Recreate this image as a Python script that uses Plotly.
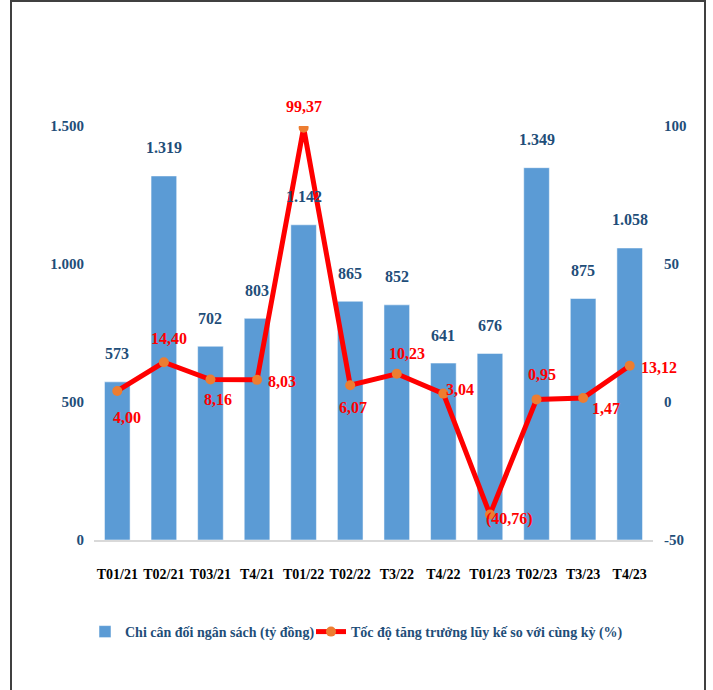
import plotly.graph_objects as go

categories = ["T01/21", "T02/21", "T03/21", "T4/21", "T01/22", "T02/22",
              "T3/22", "T4/22", "T01/23", "T02/23", "T3/23", "T4/23"]
spending = [573, 1319, 702, 803, 1142, 865, 852, 641, 676, 1349, 875, 1058]
growth = [4.00, 14.40, 8.16, 8.03, 99.37, 6.07, 10.23, 3.04, -40.76, 0.95, 1.47, 13.12]

left_tickvals = [0, 500, 1000, 1500]
left_ticktext = ["0", "500", "1.000", "1.500"]
right_tickvals = [-50, 0, 50, 100]
right_ticktext = ["-50", "0", "50", "100"]

bar_name = "Chi cân đối ngân sách (tỷ đồng)"
line_name = "Tốc độ tăng trưởng lũy kế so với cùng kỳ (%)"

# label offsets (pixels, dx right, dy down) for the growth labels
growth_label_offsets = [(10, 27), (5, -24), (8, 20), (25, 2), (0, -21), (3, 22),
                        (10, -20), (17, -4), (20, 4), (5, -25), (23, 11), (29, 2)]

FONT = "Liberation Serif"
BLUE_TXT = "#1F4E79"


def fmt_bar(v):
    return f"{v:,}".replace(",", ".")


def fmt_growth(v):
    s = f"{abs(v):.2f}".replace(".", ",")
    return f"({s})" if v < 0 else s


W, H = 713, 690
L, R, T, B = 94, 60, 126, 150
pw, ph = W - L - R, H - T - B


def px2x(px):
    return (px - L) / pw


def py2y(py):
    return (H - B - py) / ph


fig = go.Figure()
fig.add_trace(go.Bar(
    x=categories, y=spending, name=bar_name, yaxis="y",
    marker=dict(color="#5B9BD5", line=dict(color="rgba(255,255,255,0.5)", width=1)),
    width=0.55, legend="legend", showlegend=True,
))
fig.add_trace(go.Scatter(
    x=categories, y=growth, name=line_name, yaxis="y2", mode="lines+markers",
    line=dict(color="#FF0000", width=5),
    marker=dict(color="#ED7D31", size=10),
    legend="legend2", showlegend=True,
))

annotations = []
for c, v in zip(categories, spending):
    annotations.append(dict(
        x=c, y=v, xref="x", yref="y", text=fmt_bar(v), showarrow=False,
        yshift=28, font=dict(family=FONT, size=16, color=BLUE_TXT, weight="bold"),
    ))
for c, v, (dx, dy) in zip(categories, growth, growth_label_offsets):
    annotations.append(dict(
        x=c, y=v, xref="x", yref="y2", text=fmt_growth(v), showarrow=False,
        xshift=dx, yshift=-dy, font=dict(family=FONT, size=16, color="#FF0000", weight="bold"),
    ))

legend_font = dict(family=FONT, size=14, color=BLUE_TXT, weight="bold")

fig.update_layout(
    width=W, height=H,
    margin=dict(l=L, r=R, t=T, b=B, autoexpand=False),
    paper_bgcolor="white", plot_bgcolor="white",
    font=dict(family=FONT),
    showlegend=True,
    xaxis=dict(
        type="category", range=[-0.5, len(categories) - 0.5],
        showgrid=False, showline=True, linecolor="#D9D9D9", linewidth=2,
        ticks="", ticklabelstandoff=20, automargin=False,
        tickfont=dict(family=FONT, size=14, color="black", weight="bold"),
    ),
    yaxis=dict(
        range=[0, 1500], tickvals=left_tickvals, ticktext=left_ticktext,
        showgrid=False, zeroline=False, showline=False, ticks="", ticklabelstandoff=9,
        automargin=False,
        tickfont=dict(family=FONT, size=15, color=BLUE_TXT, weight="bold"),
    ),
    yaxis2=dict(
        range=[-50, 100], tickvals=right_tickvals, ticktext=right_ticktext,
        overlaying="y", side="right", automargin=False,
        showgrid=False, zeroline=False, showline=False, ticks="", ticklabelstandoff=10,
        tickfont=dict(family=FONT, size=15, color=BLUE_TXT, weight="bold"),
    ),
    legend=dict(
        xref="container", yref="container",
        x=85 / W, y=1 - 632 / H, xanchor="left", yanchor="middle",
        orientation="h", bgcolor="rgba(0,0,0,0)", font=legend_font,
    ),
    legend2=dict(
        xref="container", yref="container",
        x=311 / W, y=1 - 632 / H, xanchor="left", yanchor="middle",
        orientation="h", bgcolor="rgba(0,0,0,0)", font=legend_font,
    ),
    annotations=annotations,
    shapes=[dict(
        type="rect", xref="paper", yref="paper",
        x0=px2x(11), x1=px2x(705), y0=py2y(705), y1=py2y(1),
        line=dict(color="#404040", width=2), fillcolor="rgba(0,0,0,0)", layer="above",
    )],
)

fig.write_html(
    "out.html",
    config={"displayModeBar": False},
    post_script="document.body.style.margin='0';document.body.style.overflow='hidden';",
)
